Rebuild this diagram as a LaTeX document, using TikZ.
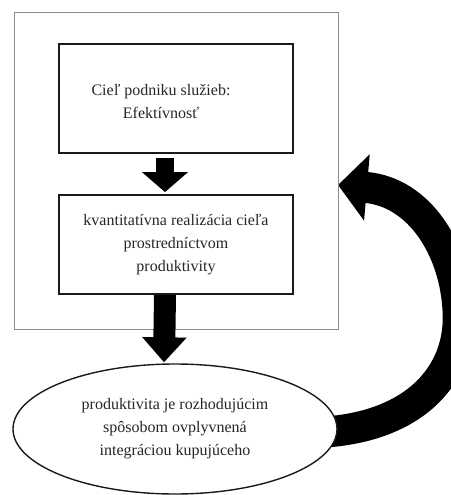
\documentclass[tikz,border=0pt]{standalone}
\usepackage{fontspec}
\setmainfont{Liberation Serif}
\usetikzlibrary{positioning,arrows.meta,shapes.geometric,backgrounds}
\definecolor{lgray}{HTML}{8C8C8C}
\definecolor{dark}{HTML}{1A1A1A}
\tikzset{
  frame/.style ={draw=lgray, line width=0.8pt, minimum width=324pt, minimum height=317pt, inner sep=0pt},
  txt/.style   ={align=center, text=black!85, font=\fontsize{16}{23}\selectfont},
  box/.style   ={draw=dark, line width=1.8pt, minimum width=234pt, inner sep=0pt, txt},
  oval/.style  ={ellipse, draw=dark, line width=1.4pt, fill=white, minimum width=324pt, minimum height=130pt,
                 inner sep=0pt, txt},
  fat/.style   ={draw=black, line cap=butt},
}
\begin{document}
\begin{tikzpicture}[x=1pt,y=-1pt]
  \useasboundingbox (0,0) rectangle (450,495);
  \clip (0,0) rectangle (450,495);
  \node[frame] (frame) at (176,170.5) {};
  \node[box, minimum height=109pt,
        label={[txt, xshift=-15pt, yshift=-3pt]center:Cieľ podniku služieb:\\Efektívnosť}] (goal) at (176,98.5) {};
  \node[box, minimum height=99pt] (quant) at (176,244.5) {kvantitatívna realizácia cieľa\\prostredníctvom\\produktivity};
  \node[oval] (result) at (175,429) {produktivita je rozhodujúcim\\spôsobom ovplyvnená\\integráciou kupujúceho};
  % down arrows
  \draw[fat, line width=18pt, -{Triangle[length=20pt,width=45pt]}, shorten <=4pt, shorten >=2pt]
    ([xshift=-11pt]goal.south) -- ([xshift=-11pt]quant.north);
  \draw[fat, line width=22pt, -{Triangle[length=25pt,width=43pt]}, shorten >=1pt]
    ([xshift=-11pt]quant.south) -- ([xshift=-11pt]result.north);
  % feedback loop
  \coordinate (back) at (338,185);
  \begin{scope}[on background layer]
    \draw[fat, line width=31pt, -{Triangle[length=29pt,width=65pt]}]
      ([xshift=-12pt,yshift=-3pt]result.east) .. controls (420,425) and (462,370) .. (458,310)
      .. controls (455,250) and (420,192) .. (back);
  \end{scope}
\end{tikzpicture}
\end{document}
